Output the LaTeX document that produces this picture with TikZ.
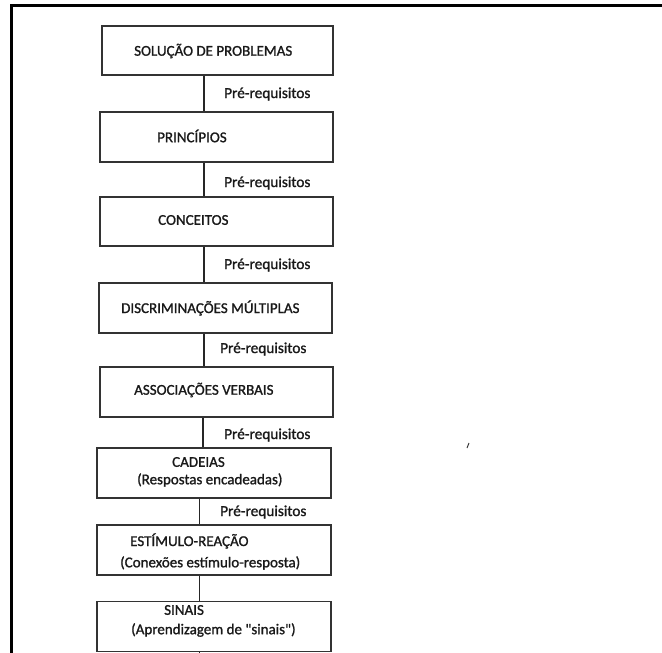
\documentclass[tikz,border=0pt]{standalone}
\usepackage{fontspec}
% family without TeX ligature mapping, so " stays a straight quote
\newfontfamily\boxfont{Carlito}[FakeBold=1.2]
\begin{document}
\begin{tikzpicture}[x=1pt,y=-1pt,
  stage/.style={draw=black!80,line width=1.4pt,rectangle,inner sep=0pt},
  txt/.style={anchor=west,inner sep=0pt,text=black!90,font=\boxfont\fontsize{15}{17}\selectfont},
  prereq/.style={anchor=west,inner sep=0pt,text=black!90,font=\boxfont\fontsize{15.3}{17}\selectfont},
  link/.style={draw=black!85,line width=1.3pt},
  frameline/.style={draw=black,line width=3pt}]
\useasboundingbox (0,0) rectangle (662,653);
% outer frame: top and left edges only
\coordinate (fa) at (11,653);
\coordinate (fb) at (11,5);
\coordinate (fc) at (662,5);
\draw[frameline] (fa) -- (fb) -- (fc);
% stage boxes
\node[stage,minimum width=231pt,minimum height=49pt] (b1) at (217.5,50.5) {};
\node[stage,minimum width=233pt,minimum height=50pt] (b2) at (216.5,137) {};
\node[stage,minimum width=233pt,minimum height=49pt] (b3) at (216.5,221.5) {};
\node[stage,minimum width=233pt,minimum height=50pt] (b4) at (215.5,308) {};
\node[stage,minimum width=233pt,minimum height=50pt] (b5) at (216.5,392) {};
\node[stage,minimum width=234pt,minimum height=50pt] (b6) at (214,473) {};
\node[stage,minimum width=234pt,minimum height=50pt] (b7) at (214,550) {};
\node[stage,minimum width=234pt,minimum height=50pt] (b8) at (214,626.5) {};
% box texts
\node[txt] (t1) at (134,51) {SOLUÇÃO DE PROBLEMAS};
\node[txt] (t2) at (157,136) {PRINCÍPIOS};
\node[txt] (t3) at (158,220) {CONCEITOS};
\node[txt] (t4) at (121,308) {DISCRIMINAÇÕES MÚLTIPLAS};
\node[txt] (t5) at (134,390) {ASSOCIAÇÕES VERBAIS};
\node[txt] (t6a) at (172,462) {CADEIAS};
\node[txt] (t6b) at (137,480) {(Respostas encadeadas)};
\node[txt] (t7a) at (130,541) {ESTÍMULO-REAÇÃO};
\node[txt] (t7b) at (120,563) {(Conexões estímulo-resposta)};
\node[txt] (t8a) at (164,610) {SINAIS};
\node[txt] (t8b) at (131,630) {(Aprendizagem de "sinais")};
% vertical spine positions
\coordinate (s1) at (204,0);
\coordinate (s2) at (203,0);
\coordinate (s3) at (199.5,0);
\coordinate (bottom) at (199.5,653);
\draw[link] (b1.south -| s1) -- (b2.north -| s1);
\draw[link] (b2.south -| s1) -- (b3.north -| s1);
\draw[link] (b3.south -| s1) -- (b4.north -| s1);
\draw[link] (b4.south -| s1) -- (b5.north -| s1);
\draw[link] (b5.south -| s2) -- (b6.north -| s2);
\draw[link] (b6.south -| s3) -- (b7.north -| s3);
\draw[link] (b7.south -| s3) -- (b8.north -| s3);
\draw[link] (b8.south -| s3) -- (bottom);
% connector labels
\node[prereq] (p1) at (224,94) {Pré-requisitos};
\node[prereq] (p2) at (224,183) {Pré-requisitos};
\node[prereq] (p3) at (224,265) {Pré-requisitos};
\node[prereq] (p4) at (220,349) {Pré-requisitos};
\node[prereq] (p5) at (224,435) {Pré-requisitos};
\node[prereq] (p6) at (220,512) {Pré-requisitos};
% stray tick
\coordinate (k1) at (467,448);
\coordinate (k2) at (469,443);
\draw[line width=1pt,black!80] (k1) -- (k2);
\end{tikzpicture}
\end{document}
